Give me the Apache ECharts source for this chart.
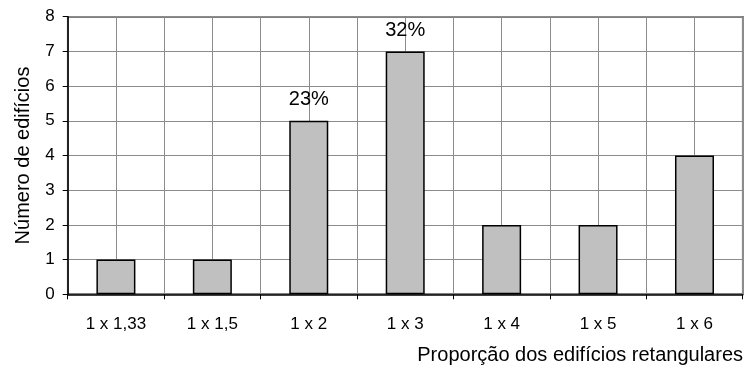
<!DOCTYPE html>
<html>
<head>
<meta charset="utf-8">
<script src="https://cdn.jsdelivr.net/npm/echarts@6/dist/echarts.min.js"></script>
<style>
  html, body { margin: 0; padding: 0; background: #fff; }
  #chart { width: 747px; height: 370px; }
</style>
</head>
<body>
<div id="chart"></div>
<script>
// Building proportions and how many buildings have each one
const categories = ['1 x 1,33', '1 x 1,5', '1 x 2', '1 x 3', '1 x 4', '1 x 5', '1 x 6'];
const counts = [1, 1, 5, 7, 2, 2, 4];
// Categories whose share of the total is written above the bar
const percentShown = ['1 x 2', '1 x 3'];
const yMin = 0, yMax = 8, yStep = 1;

const total = counts.reduce((a, b) => a + b, 0);
const FONT = "'Liberation Sans', Arial, sans-serif";

const barData = counts.map((v, i) => ({
  value: v,
  label: { show: percentShown.includes(categories[i]) }
}));

const chart = echarts.init(document.getElementById('chart'), null, { renderer: 'canvas' });
chart.setOption({
  animation: false,
  backgroundColor: '#fff',
  textStyle: { fontFamily: FONT, color: '#000' },
  grid: {
    left: 67.7, right: 4.3, top: 16.7, bottom: 75.7,
    show: true, borderColor: '#000', borderWidth: 1.5, backgroundColor: 'transparent'
  },
  xAxis: [
    {
      type: 'category',
      data: categories,
      boundaryGap: true,
      axisLine: { lineStyle: { color: '#000', width: 1.5 } },
      axisTick: { show: true, length: 5, lineStyle: { color: '#000', width: 1 } },
      axisLabel: { color: '#000', fontSize: 17, fontFamily: FONT, margin: 22 },
      splitLine: { show: false },
      z: 5
    },
    {
      // half-category grid: lines through each category centre and boundary
      type: 'value',
      min: 0, max: categories.length, interval: 0.5,
      position: 'bottom',
      axisLine: { show: false },
      axisTick: { show: false },
      axisLabel: { show: false },
      splitLine: { show: true, lineStyle: { color: '#8c8c8c', width: 1 } }
    }
  ],
  yAxis: {
    type: 'value',
    min: yMin, max: yMax, interval: yStep,
    name: 'Número de edifícios',
    nameLocation: 'middle',
    nameGap: 34,
    nameTextStyle: { fontSize: 20, color: '#000', fontFamily: FONT },
    axisLine: { show: true, lineStyle: { color: '#000', width: 1.5 } },
    axisTick: { show: true, length: 5, lineStyle: { color: '#000', width: 1 } },
    axisLabel: { color: '#000', fontSize: 17, fontFamily: FONT, margin: 13 },
    splitLine: { show: true, lineStyle: { color: '#8c8c8c', width: 1 } }
  },
  graphic: [{
    type: 'text',
    right: 4,
    top: 345,
    style: {
      text: 'Proporção dos edifícios retangulares',
      fontSize: 20,
      fontFamily: FONT,
      fill: '#000'
    }
  }],
  series: [{
    type: 'bar',
    xAxisIndex: 0,
    data: barData,
    barWidth: 39,
    itemStyle: { color: '#c0c0c0', borderColor: '#000', borderWidth: 1.5 },
    label: {
      position: 'top',
      distance: 11,
      fontSize: 20,
      fontFamily: FONT,
      color: '#000',
      formatter: p => Math.round(p.value / total * 100) + '%'
    },
    z: 3
  }]
});
</script>
</body>
</html>
